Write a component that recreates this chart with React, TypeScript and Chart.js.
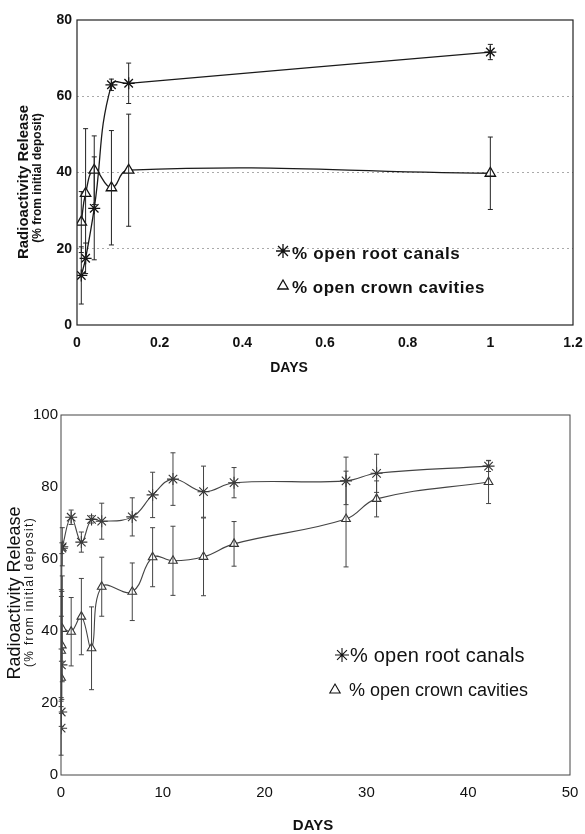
import React, { useEffect, useRef } from 'react';
import { Chart, registerables } from 'chart.js';
import { drawPoint } from 'chart.js/helpers';

Chart.register(...registerables);

// ---------- DATA ----------
// First day (x in days)
const earlyDays = [0.0104, 0.0208, 0.0417, 0.0833, 0.125, 1];
const earlyRoot = [13, 17.5, 30.6, 63, 63.4, 71.6];
const earlyRootErr = [7.5, 4, 13.5, 1.5, 5.3, 2];
const earlyCrown = [27, 34.5, 40.6, 36, 40.6, 39.8];
const earlyCrownErr = [8, 17, 9, 15, 14.7, 9.5];

// Following days
const lateDays = [2, 3, 4, 7, 9, 11, 14, 17, 28, 31, 42];
const lateRoot = [64.7, 71, 70.5, 71.7, 77.8, 82.2, 78.7, 81.2, 81.7, 83.8, 85.8];
const lateRootErr = [2.8, 1, 5, 5.3, 6.3, 7.3, 7.1, 4.2, 6.6, 5.3, 1.5];
const lateCrown = [44, 35.2, 52.3, 50.9, 60.5, 59.5, 60.6, 64.2, 71.1, 76.7, 81.4];
const lateCrownErr = [10.6, 11.5, 8.2, 8, 8.2, 9.6, 10.8, 6.2, 13.3, 5, 6];

const seriesLabels = ['% open root canals', '% open crown cavities'];

const topXTicks = [0, 0.2, 0.4, 0.6, 0.8, 1, 1.2];
const topXTickLabels = ['0', '0.2', '0.4', '0.6', '0.8', '1', '1.2'];
const topYTicks = [0, 20, 40, 60, 80];
const bottomXTicks = [0, 10, 20, 30, 40, 50];
const bottomYTicks = [0, 20, 40, 60, 80, 100];

const yTitle = 'Radioactivity Release';
const ySubtitle = '(% from initial deposit)';
const xTitle = 'DAYS';

const FAMILY = '"Liberation Sans", Arial, Helvetica, sans-serif';

// ---------- PLUGINS ----------
const errorBarsPlugin = {
  id: 'errorBars',
  afterDatasetsDraw(chart: any, _args: any, opts: any) {
    const { ctx } = chart;
    const xs = chart.scales.x;
    const ys = chart.scales.y;
    chart.data.datasets.forEach((ds: any) => {
      const errs: number[] = ds.errors;
      if (!errs) return;
      ctx.save();
      ctx.strokeStyle = opts.color || '#333';
      ctx.lineWidth = opts.width || 1;
      ds.data.forEach((p: any, j: number) => {
        const x = xs.getPixelForValue(p.x);
        const y1 = ys.getPixelForValue(p.y - errs[j]);
        const y2 = ys.getPixelForValue(p.y + errs[j]);
        const c = opts.cap || 2.5;
        ctx.beginPath();
        ctx.moveTo(x, y1);
        ctx.lineTo(x, y2);
        ctx.moveTo(x - c, y1);
        ctx.lineTo(x + c, y1);
        ctx.moveTo(x - c, y2);
        ctx.lineTo(x + c, y2);
        ctx.stroke();
      });
      ctx.restore();
    });
  },
};

const framePlugin = {
  id: 'frame',
  afterDraw(chart: any, _args: any, opts: any) {
    const { ctx, chartArea: a } = chart;
    ctx.save();
    ctx.strokeStyle = opts.color || '#222';
    ctx.lineWidth = opts.width || 1;
    ctx.strokeRect(a.left, a.top, a.right - a.left, a.bottom - a.top);
    ctx.restore();
  },
};

const titlesPlugin = {
  id: 'titles',
  afterDraw(chart: any, _args: any, o: any) {
    const { ctx } = chart;
    ctx.save();
    ctx.fillStyle = o.color || '#111';
    ctx.textAlign = 'center';
    ctx.textBaseline = 'middle';
    ctx.save();
    ctx.translate(o.yTitleX, o.yTitleY);
    ctx.rotate(-Math.PI / 2);
    ctx.font = o.yFont;
    ctx.fillText(o.yTitle, 0, 0);
    ctx.restore();
    ctx.save();
    ctx.translate(o.ySubX, o.ySubY);
    ctx.rotate(-Math.PI / 2);
    ctx.font = o.ySubFont;
    (ctx as any).letterSpacing = o.ySubSpacing || '0px';
    ctx.fillText(o.ySub, 0, 0);
    ctx.restore();
    ctx.font = o.xFont;
    ctx.fillText(o.xTitle, o.xTitleX, o.xTitleY);
    ctx.restore();
  },
};

const insideLegendPlugin = {
  id: 'insideLegend',
  afterDraw(chart: any, _args: any, o: any) {
    const { ctx } = chart;
    chart.data.datasets.forEach((ds: any, i: number) => {
      const it = o.items[i];
      ctx.save();
      ctx.fillStyle = '#fff';
      ctx.strokeStyle = '#111';
      ctx.lineWidth = ds.pointBorderWidth || 1;
      drawPoint(ctx, { pointStyle: ds.pointStyle, radius: it.r, borderWidth: ds.pointBorderWidth || 1, rotation: 0 } as any, it.mx, it.my);
      ctx.fillStyle = '#111';
      ctx.font = it.font;
      (ctx as any).letterSpacing = it.spacing || '0px';
      ctx.textAlign = 'left';
      ctx.textBaseline = 'middle';
      ctx.fillText(ds.label, it.tx, it.ty);
      ctx.restore();
    });
  },
};

function pts(xs: number[], ys: number[]) {
  return xs.map((x, i) => ({ x, y: ys[i] }));
}

function fixedTicks(values: number[]) {
  return (scale: any) => {
    scale.ticks = values.map((v) => ({ value: v }));
  };
}

// ---------- CHART PANEL ----------
function ChartPanel({ config, width, height }: { config: any; width: number; height: number }) {
  const ref = useRef<HTMLCanvasElement>(null);
  useEffect(() => {
    const chart = new Chart(ref.current as HTMLCanvasElement, config);
    return () => chart.destroy();
  }, []);
  return <canvas ref={ref} width={width} height={height} style={{ display: 'block', width, height }} />;
}

const W = 585;
const TOP_H = 395;
const BOT_H = 439;

const topConfig: any = {
  type: 'line',
  data: {
    datasets: [
      {
        label: seriesLabels[0],
        data: pts(earlyDays, earlyRoot),
        errors: earlyRootErr,
        borderColor: '#1a1a1a',
        borderWidth: 1.3,
        pointStyle: 'star',
        pointRadius: 6,
        pointBorderWidth: 1.3,
        pointBorderColor: '#111',
        pointBackgroundColor: '#111',
        tension: 0.45,
      },
      {
        label: seriesLabels[1],
        data: pts(earlyDays, earlyCrown),
        errors: earlyCrownErr,
        borderColor: '#1a1a1a',
        borderWidth: 1.3,
        pointStyle: 'triangle',
        pointRadius: 6,
        pointBorderWidth: 1.3,
        pointBorderColor: '#111',
        pointBackgroundColor: '#fff',
        tension: 0.45,
      },
    ],
  },
  options: {
    responsive: false,
    animation: false,
    devicePixelRatio: 1,
    layout: { padding: { left: 0, right: 12, top: 20, bottom: 0 } },
    plugins: {
      legend: { display: false },
      tooltip: { enabled: false },
      errorBars: { color: '#222', width: 1, cap: 2.5 },
      frame: { color: '#222', width: 1.2 },
      titles: {
        yTitle, ySub: ySubtitle, xTitle,
        yTitleX: 24, yTitleY: 182, yFont: `bold 15px ${FAMILY}`,
        ySubX: 38, ySubY: 178, ySubFont: `bold 12px ${FAMILY}`,
        xTitleX: 289, xTitleY: 368, xFont: `bold 14px ${FAMILY}`,
      },
      insideLegend: {
        items: [
          { mx: 283, my: 251, r: 7, tx: 292, ty: 254, font: `bold 17px ${FAMILY}`, spacing: '0.7px' },
          { mx: 283, my: 286, r: 6, tx: 292, ty: 288, font: `bold 17px ${FAMILY}`, spacing: '0.5px' },
        ],
      },
    },
    scales: {
      x: {
        type: 'linear',
        min: 0,
        max: 1.2,
        afterBuildTicks: fixedTicks(topXTicks),
        afterFit: (s: any) => { s.height = TOP_H - 325; s.paddingLeft = 0; s.paddingRight = 0; },
        grid: { display: false, drawTicks: false },
        border: { display: false },
        ticks: {
          padding: 10,
          color: '#111',
          font: { family: FAMILY, size: 14, weight: 'bold' },
          callback: (v: number) => topXTickLabels[topXTicks.indexOf(v)] ?? String(v),
        },
      },
      y: {
        type: 'linear',
        min: 0,
        max: 80,
        afterBuildTicks: fixedTicks(topYTicks),
        afterFit: (s: any) => { s.width = 77; s.paddingTop = 0; s.paddingBottom = 0; },
        grid: {
          drawTicks: false,
          lineWidth: 1,
          color: (c: any) => (c.tick && (c.tick.value === 0 || c.tick.value === 80) ? 'rgba(0,0,0,0)' : '#aaa'),
        },
        border: { display: false, dash: [2, 3] },
        ticks: { padding: 5, color: '#111', font: { family: FAMILY, size: 14, weight: 'bold' } },
      },
    },
  },
  plugins: [errorBarsPlugin, framePlugin, titlesPlugin, insideLegendPlugin],
};

const bottomConfig: any = {
  type: 'line',
  data: {
    datasets: [
      {
        label: seriesLabels[0],
        data: pts(earlyDays.concat(lateDays), earlyRoot.concat(lateRoot)),
        errors: earlyRootErr.concat(lateRootErr),
        borderColor: '#444',
        borderWidth: 1.1,
        pointStyle: 'star',
        pointRadius: 6,
        pointBorderWidth: 1.1,
        pointBorderColor: '#333',
        pointBackgroundColor: '#333',
        tension: 0.4,
      },
      {
        label: seriesLabels[1],
        data: pts(earlyDays.concat(lateDays), earlyCrown.concat(lateCrown)),
        errors: earlyCrownErr.concat(lateCrownErr),
        borderColor: '#444',
        borderWidth: 1.1,
        pointStyle: 'triangle',
        pointRadius: 5,
        pointBorderWidth: 1.1,
        pointBorderColor: '#333',
        pointBackgroundColor: '#fff',
        tension: 0.4,
      },
    ],
  },
  options: {
    responsive: false,
    animation: false,
    devicePixelRatio: 1,
    layout: { padding: { left: 0, right: 15, top: 20, bottom: 0 } },
    plugins: {
      legend: { display: false },
      tooltip: { enabled: false },
      errorBars: { color: '#444', width: 1, cap: 2.5 },
      frame: { color: '#444', width: 1 },
      titles: {
        yTitle, ySub: ySubtitle, xTitle,
        yTitleX: 15, yTitleY: 198, yFont: `18px ${FAMILY}`,
        ySubX: 29.5, ySubY: 197, ySubFont: `12px ${FAMILY}`, ySubSpacing: '1.3px',
        xTitleX: 313, xTitleY: 431, xFont: `bold 15px ${FAMILY}`,
      },
      insideLegend: {
        items: [
          { mx: 342, my: 260, r: 7, tx: 350, ty: 261, font: `20px ${FAMILY}`, spacing: '0.2px' },
          { mx: 335, my: 295, r: 6, tx: 349, ty: 296, font: `18px ${FAMILY}`, spacing: '0px' },
        ],
      },
    },
    scales: {
      x: {
        type: 'linear',
        min: 0,
        max: 50,
        afterBuildTicks: fixedTicks(bottomXTicks),
        afterFit: (s: any) => { s.height = BOT_H - 380; s.paddingLeft = 0; s.paddingRight = 0; },
        grid: { display: false, drawTicks: false },
        border: { display: false },
        ticks: { padding: 9, color: '#111', font: { family: FAMILY, size: 15 } },
      },
      y: {
        type: 'linear',
        min: 0,
        max: 100,
        afterBuildTicks: fixedTicks(bottomYTicks),
        afterFit: (s: any) => { s.width = 61; s.paddingTop = 0; s.paddingBottom = 0; },
        grid: { display: false, drawTicks: false },
        border: { display: false },
        ticks: { padding: 3, color: '#111', font: { family: FAMILY, size: 15 } },
      },
    },
  },
  plugins: [errorBarsPlugin, framePlugin, titlesPlugin, insideLegendPlugin],
};

export default function App() {
  return (
    <div style={{ position: 'absolute', left: 0, top: 0, width: W, height: TOP_H + BOT_H, background: '#fff' }}>
      <ChartPanel config={topConfig} width={W} height={TOP_H} />
      <ChartPanel config={bottomConfig} width={W} height={BOT_H} />
    </div>
  );
}
